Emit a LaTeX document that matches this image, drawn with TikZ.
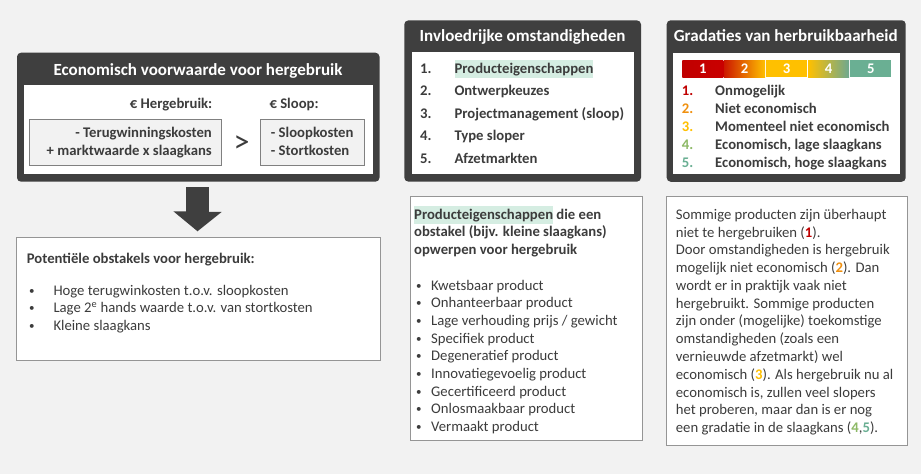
\documentclass[tikz,border=0pt]{standalone}
\usepackage{fontspec}
\setmainfont{Carlito}
\usetikzlibrary{calc}
\definecolor{darkc}{HTML}{3F3F3F}
\definecolor{txt}{HTML}{3C3C3C}
\definecolor{bg}{HTML}{F2F2F2}
\definecolor{mint}{HTML}{D5EDE2}
\definecolor{gr1}{HTML}{C00000}
\definecolor{gr2}{HTML}{F0900F}
\definecolor{gr3}{HTML}{FFC000}
\definecolor{gr4}{HTML}{8DB966}
\definecolor{gr5}{HTML}{6AAF93}
\definecolor{bordc}{HTML}{959595}
\definecolor{calcb}{HTML}{808080}
\newcommand{\mintmark}[1]{{\setlength{\fboxsep}{0pt}\colorbox{mint}{\rule[-4.5pt]{0pt}{18pt}#1}}}
\newcommand{\smallbul}{\raisebox{1pt}{\fontsize{11}{12}\selectfont•}}
\tikzset{
  body/.style={font=\fontsize{14.7}{17.8}\selectfont, text=txt, inner sep=0pt},
  bodyb/.style={font=\fontsize{14.7}{17.8}\selectfont\bfseries, text=txt, inner sep=0pt},
  titletext/.style={font=\fontsize{17}{20}\selectfont\bfseries, text=white, inner sep=0pt},
  darkbox/.style={fill=darkc, rounded corners=4pt, draw=none, inner sep=0pt},
  whitebox/.style={fill=white, draw=none, inner sep=0pt},
  panel/.style={fill=white, draw=bordc, line width=0.9pt, inner sep=0pt},
  calcbox/.style={fill=bg, draw=calcb, line width=0.9pt, inner sep=0pt},
  seg/.style={minimum width=41pt, minimum height=16.7pt, inner sep=0pt, text=white,
    font=\fontsize{14.7}{17.8}\selectfont\bfseries},
}
\begin{document}
\begin{tikzpicture}[x=1pt,y=-1pt]
\useasboundingbox[fill=bg] (0,0) rectangle (921,474);

% ---------- Box 1: Economisch voorwaarde ----------
\node[darkbox, minimum width=362.5pt, minimum height=129pt] (econ) at (198.25,117.2) {};
\node[whitebox, minimum width=349pt, minimum height=89pt] (econin) at (198.5,129.5) {};
\node[titletext, anchor=base] (econt) at (198,75) {Economisch voorwaarde voor hergebruik};
\node[bodyb, anchor=base east] (hergt) at (212.5,108.5) {€ Hergebruik:};
\node[bodyb, anchor=base west] (sloopt) at (269.3,108.5) {€ Sloop:};
\node[calcbox, minimum width=192pt, minimum height=46.7pt] (lbox) at (125,142.35) {};
\node[calcbox, minimum width=103.3pt, minimum height=46.7pt] (rbox) at (312.35,142.35) {};
\node[bodyb, anchor=base east] (l1) at (212,137.7) {- Terugwinningskosten};
\node[bodyb, anchor=base east] (l2) at (212,155.5) {+ marktwaarde x slaagkans};
\node[bodyb, anchor=base west] (r1) at (270.7,137.7) {- Sloopkosten};
\node[bodyb, anchor=base west] (r2) at (270.7,155.5) {- Stortkosten};
\node[font=\fontsize{32}{34}\selectfont, text=txt, inner sep=0pt] (gt) at (241.5,144.2) {>};

% ---------- Box 2: Potentiele obstakels ----------
\node[panel, minimum width=363.3pt, minimum height=123pt] (obst) at (198.35,298.5) {};
\node[bodyb, anchor=base west] (obstt) at (26.7,263.3) {Potentiële obstakels voor hergebruik:};
\foreach \t [count=\i] in {{Hoge terugwinkosten t.o.v. sloopkosten},{Lage 2\textsuperscript{e} hands waarde t.o.v. van stortkosten},{Kleine slaagkans}}{
  \node[body, anchor=base west] (ob\i) at (29,{295+(\i-1)*17.5}) {\smallbul};
  \node[body, anchor=base west] (ot\i) at (53.3,{295+(\i-1)*17.5}) {\t};
}

% ---------- Arrow ----------
\path (econ.south) ++(-0.75,5.3) coordinate (arrtop);
\path (obst.north) ++(-0.85,-5.3) coordinate (arrtip);
\fill[darkc] (arrtop) ++(-11.3,0) -- ++(22.6,0) -- ++(0,24.7) -- ++(12.9,0) -- (arrtip)
  -- ++(-24.2,-20) -- ++(12.9,0) -- cycle;

% ---------- Box 3: Invloedrijke omstandigheden ----------
\node[darkbox, minimum width=236.7pt, minimum height=161.2pt] (invl) at (522.65,101) {};
\node[whitebox, minimum width=222pt, minimum height=122pt] (invlin) at (522.7,113.3) {};
\node[titletext, anchor=base] (invlt) at (522.5,41) {Invloedrijke omstandigheden};
\foreach \t [count=\i] in {{\mintmark{Producteigenschappen}},{Ontwerpkeuzes},{Projectmanagement (sloop)},{Type sloper},{Afzetmarkten}}{
  \node[bodyb, anchor=base west] (in\i) at (420,{73.3+(\i-1)*22.5}) {\i.};
  \node[bodyb, anchor=base west] (it\i) at (454.3,{73.3+(\i-1)*22.5}) {\t};
}

% ---------- Box 4: Gradaties ----------
\node[darkbox, minimum width=239pt, minimum height=161.5pt] (grad) at (786.2,101) {};
\node[whitebox, minimum width=227pt, minimum height=121.6pt] (gradin) at (786.8,113.5) {};
\node[titletext, anchor=base] (gradt) at (785.8,41) {Gradaties van herbruikbaarheid};
\node[seg, left color=gr1, right color=gr1!85!red] (s1) at (702.8,68.7) {1};
\node[seg, left color=gr1!80!orange, right color=gr3] (s2) at (744.65,68.7) {2};
\node[seg, fill=gr3] (s3) at (786.65,68.7) {3};
\node[seg, left color=gr3, right color=gr5!85!gray] (s4) at (828.65,68.7) {4};
\node[seg, fill=gr5] (s5) at (870.85,68.7) {5};
\foreach \t/\c [count=\i] in {{Onmogelijk}/gr1,{Niet economisch}/gr2,{Momenteel niet economisch}/gr3,{Economisch, lage slaagkans}/gr4,{Economisch, hoge slaagkans}/gr5}{
  \node[bodyb, text=\c, anchor=base west] (gn\i) at (681.7,{95.7+(\i-1)*18}) {\i.};
  \node[bodyb, anchor=base west] (gt\i) at (715,{95.7+(\i-1)*18}) {\t};
}

% ---------- Box 5: Producteigenschappen ----------
\node[panel, minimum width=232.3pt, minimum height=244pt] (prod) at (526.15,318) {};
\node[bodyb, anchor=base west] (pt1) at (414,219.3) {\mintmark{Producteigenschappen} die een};
\node[bodyb, anchor=base west] (pt2) at (414,236.8) {obstakel (bijv. kleine slaagkans)};
\node[bodyb, anchor=base west] (pt3) at (414,254.3) {opwerpen voor hergebruik};
\foreach \t [count=\i] in {{Kwetsbaar product},{Onhanteerbaar product},{Lage verhouding prijs / gewicht},{Specifiek product},{Degeneratief product},{Innovatiegevoelig product},{Gecertificeerd product},{Onlosmaakbaar product},{Vermaakt product}}{
  \node[body, anchor=base west] (pb\i) at (416,{290+(\i-1)*17.7}) {\smallbul};
  \node[body, anchor=base west] (pl\i) at (431,{290+(\i-1)*17.7}) {\t};
}

% ---------- Box 6: Sommige producten ----------
\node[panel, minimum width=241.3pt, minimum height=249pt] (somm) at (786.65,320.5) {};
\foreach \t [count=\i] in {
  {Sommige producten zijn überhaupt},
  {niet te hergebruiken (\textcolor{gr1}{\textbf{1}}).},
  {Door omstandigheden is hergebruik},
  {mogelijk niet economisch (\textcolor{gr2}{\textbf{2}}). Dan},
  {wordt er in praktijk vaak niet},
  {hergebruikt. Sommige producten},
  {zijn onder (mogelijke) toekomstige},
  {omstandigheden (zoals een},
  {vernieuwde afzetmarkt) wel},
  {economisch (\textcolor{gr3}{\textbf{3}}). Als hergebruik nu al},
  {economisch is, zullen veel slopers},
  {het proberen, maar dan is er nog},
  {een gradatie in de slaagkans (\textcolor{gr4}{\textbf{4}},\textcolor{gr5}{\textbf{5}}).}}{
  \node[body, anchor=base west] (sl\i) at (675.7,{219.3+(\i-1)*17.78}) {\t};
}
\end{tikzpicture}
\end{document}
